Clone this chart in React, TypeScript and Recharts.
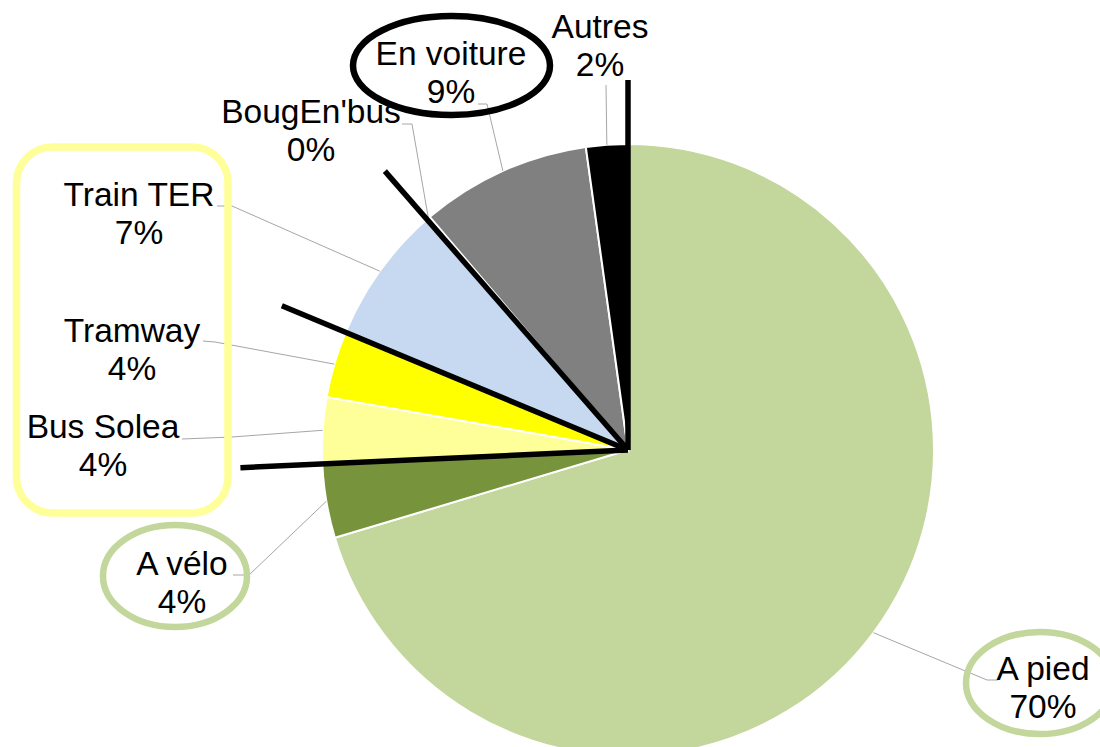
import React from "react";
import { PieChart, Pie, Cell } from "recharts";

// ---- data ----
const categories = ["A pied", "A vélo", "Bus Solea", "Tramway", "Train TER", "BougEn'bus", "En voiture", "Autres"];
const shares = [70.3, 3.9, 3.5, 3.5, 7.3, 0.2, 9.0, 2.2];
// categories after which a thick black separator is drawn
const groupBreaks = ["A vélo", "Tramway", "Train TER", "Autres"];

// ---- styles / layout ----
const sliceColors = ["#C3D69B", "#77933C", "#FFFF99", "#FFFF00", "#C6D9F1", "#4F81BD", "#808080", "#000000"];
const W = 1100;
const H = 747;
const CX = 628;
const CY = 450;
const R = 306;
const FONT = "'Liberation Sans', Arial, Helvetica, sans-serif";
const FONT_SIZE = 33.5;
const LINE_GAP = 38;

// label placement offsets relative to the pie centre (text centre / first baseline, leader elbow, leader end)
const labelLayout: Record<string, { t: [number, number]; e: [number, number]; h: [number, number] }> = {
  "A pied": { t: [415, 230], e: [359, 230], h: [370, 230] },
  "A vélo": { t: [-446, 125], e: [-379, 125], h: [-395, 125] },
  "Bus Solea": { t: [-525, -12], e: [-396, -13], h: [-446, -11] },
  "Tramway": { t: [-496, -108], e: [-413, -108], h: [-425, -109] },
  "Train TER": { t: [-489, -244], e: [-396, -244], h: [-411, -244] },
  "BougEn'bus": { t: [-317, -327], e: [-216, -326], h: [-226, -326] },
  "En voiture": { t: [-177, -385], e: [-141, -346], h: [-150, -346] },
  "Autres": { t: [-28, -412], e: [-22, -365], h: [-22, -365] },
};
const breakLengths = [388, 375, 370, 370];

const data = categories.map((name, i) => ({ name, value: shares[i] }));
const total = shares.reduce((a, b) => a + b, 0);

const RAD = Math.PI / 180;

const Annotations = () => {
  // cumulative clockwise angles (from 12 o'clock) at the group breaks
  const lines = groupBreaks.map((name, k) => {
    const idx = categories.indexOf(name);
    let cum = 0;
    for (let i = 0; i <= idx; i++) cum += shares[i];
    const theta = (cum / total) * 360 * RAD;
    const L = breakLengths[k];
    return { x2: CX + L * Math.sin(theta), y2: CY - L * Math.cos(theta) };
  });
  return (
    <g>
      {lines.map((l, i) => (
        <line key={i} x1={CX} y1={CY} x2={l.x2} y2={l.y2} stroke="#000" strokeWidth={5.5} strokeLinecap="butt" />
      ))}
      <rect x={16.5} y={147} width={211.5} height={366} rx={36} ry={36} fill="none" stroke="#FFFF99" strokeWidth={7.5} />
      <ellipse cx={451.5} cy={65.5} rx={98.5} ry={49.5} fill="none" stroke="#000" strokeWidth={6.5} />
      <ellipse cx={175} cy={576} rx={72} ry={51} fill="none" stroke="#C3D69B" strokeWidth={6.5} />
      <ellipse cx={1040} cy={683} rx={74} ry={51} fill="none" stroke="#C3D69B" strokeWidth={6.5} />
    </g>
  );
};

const renderLabel = (props: any) => {
  const { midAngle, index } = props;
  const name = categories[index];
  const lay = labelLayout[name];
  if (!lay) return null;
  const sx = CX + R * Math.cos(-midAngle * RAD);
  const sy = CY + R * Math.sin(-midAngle * RAD);
  const ex = CX + lay.e[0];
  const ey = CY + lay.e[1];
  const hx = CX + lay.h[0];
  const hy = CY + lay.h[1];
  const tx = CX + lay.t[0];
  const ty = CY + lay.t[1];
  const pct = Math.round((shares[index] / total) * 100 + 1e-9);
  return (
    <g key={`lbl-${index}`}>
      <polyline
        points={`${sx},${sy} ${ex},${ey} ${hx},${hy}`}
        fill="none"
        stroke="#A6A6A6"
        strokeWidth={1}
      />
      <text x={tx} y={ty} textAnchor="middle" fontFamily={FONT} fontSize={FONT_SIZE} fill="#000">
        <tspan x={tx} y={ty}>{name}</tspan>
        <tspan x={tx} y={ty + LINE_GAP}>{`${pct}%`}</tspan>
      </text>
      {index === categories.length - 1 ? <Annotations /> : null}
    </g>
  );
};

export default function App() {
  return (
    <div style={{ position: "absolute", left: 0, top: 0, width: W, height: H, background: "#fff" }}>
      <PieChart width={W} height={H} margin={{ top: 0, right: 0, bottom: 0, left: 0 }}>
        <Pie
          data={data}
          dataKey="value"
          nameKey="name"
          cx={CX}
          cy={CY}
          outerRadius={R}
          innerRadius={0}
          startAngle={90}
          endAngle={-270}
          stroke="#FFFFFF"
          strokeWidth={2}
          label={renderLabel}
          labelLine={false}
          isAnimationActive={false}
        >
          {data.map((d, i) => (
            <Cell key={d.name} fill={sliceColors[i]} />
          ))}
        </Pie>
      </PieChart>
    </div>
  );
}
